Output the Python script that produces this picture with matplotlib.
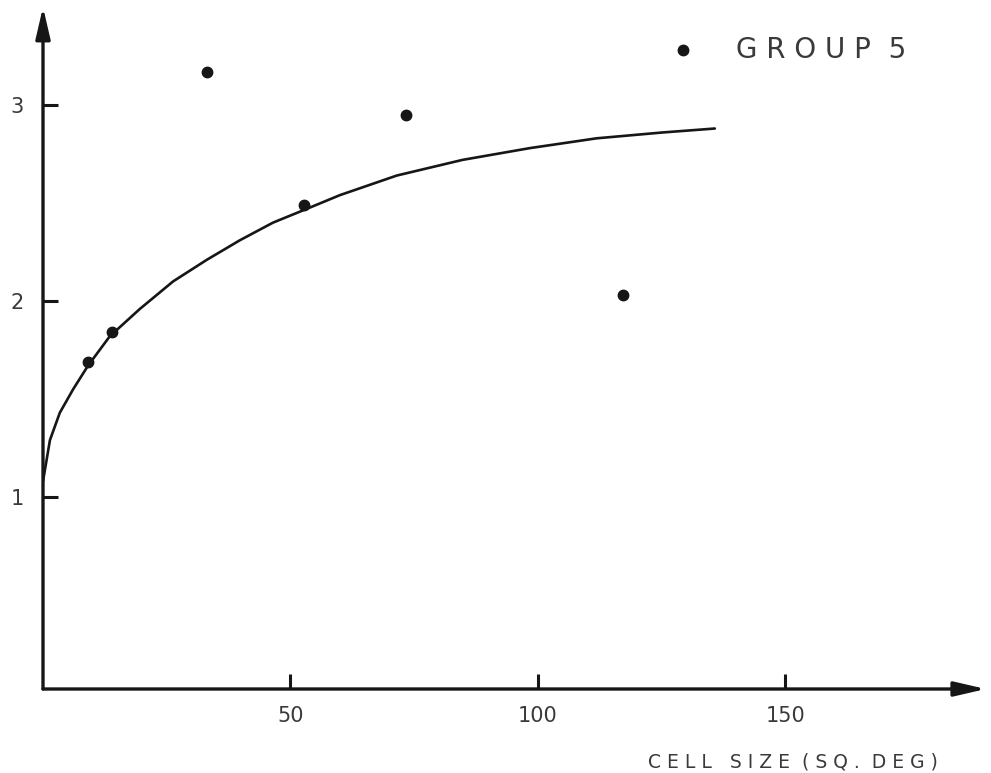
import matplotlib
matplotlib.use("Agg")
import matplotlib.pyplot as plt

# Observed cell sizes (sq. deg) and measured ratios
cell_size = [9.1, 13.9, 33.1, 52.7, 73.3, 117.2]
ratio = [1.69, 1.84, 3.17, 2.49, 2.95, 2.03]

# Hand-drawn trend curve
curve_x = [0, 0.4, 1.4, 3.4, 6.1, 9.1, 13.5, 19.6, 26.3, 33.1, 39.8, 46.5,
           53.3, 60.0, 71.5, 84.8, 98.4, 111.9, 125.3, 135.8]
curve_y = [1.08, 1.14, 1.29, 1.43, 1.55, 1.67, 1.82, 1.96, 2.10, 2.21, 2.31, 2.40,
           2.47, 2.54, 2.64, 2.72, 2.78, 2.83, 2.86, 2.88]

x_ticks = [50, 100, 150]
y_ticks = [1, 2, 3]

ink = "#161616"
pencil = "#3a3a3a"

fig = plt.figure(figsize=(9.91, 7.73), dpi=100)
ax = fig.add_axes([43 / 991, (773 - 689) / 773, (983 - 43) / 991, (689 - 7) / 773])
ax.set_xlim(0, 190)
ax.set_ylim(0.0204, 3.5)

for s in ax.spines.values():
    s.set_visible(False)

# Axes drawn as arrows
arrow = dict(arrowstyle="-|>,head_length=0.95,head_width=0.22", lw=2.4,
             color=ink, mutation_scale=20, shrinkA=0, shrinkB=0)
ax.annotate("", xy=(1.003, 0), xytext=(0, 0), xycoords="axes fraction",
            arrowprops=arrow)
ax.annotate("", xy=(0, 1.0), xytext=(0, 0), xycoords="axes fraction",
            arrowprops=arrow)

ax.set_xticks(x_ticks)
ax.set_yticks(y_ticks)
ax.set_xticklabels([str(v) for v in x_ticks])
ax.set_yticklabels([str(v) for v in y_ticks])
ax.tick_params(axis="both", direction="in", length=11, width=2.2, color=ink,
               labelcolor=pencil, labelsize=15)
ax.tick_params(axis="x", pad=12)
ax.tick_params(axis="y", pad=14)

ax.plot(curve_x, curve_y, color=ink, lw=1.9, solid_capstyle="round",
        solid_joinstyle="round")
ax.plot(cell_size, ratio, "o", color=ink, markersize=7.5, clip_on=False)

# Legend bullet and label
ax.plot([129.3], [3.28], "o", color=ink, markersize=7.5, clip_on=False)
ax.text(140, 3.28, "G R O U P  5", color=pencil, fontsize=20,
        ha="left", va="center")

fig.text(938 / 991, 1 - 762 / 773, "C E L L   S I Z E  ( S Q .  D E G )",
         color=pencil, fontsize=13.5, ha="right", va="center")

fig.savefig("out.png", dpi=100, facecolor="white")
